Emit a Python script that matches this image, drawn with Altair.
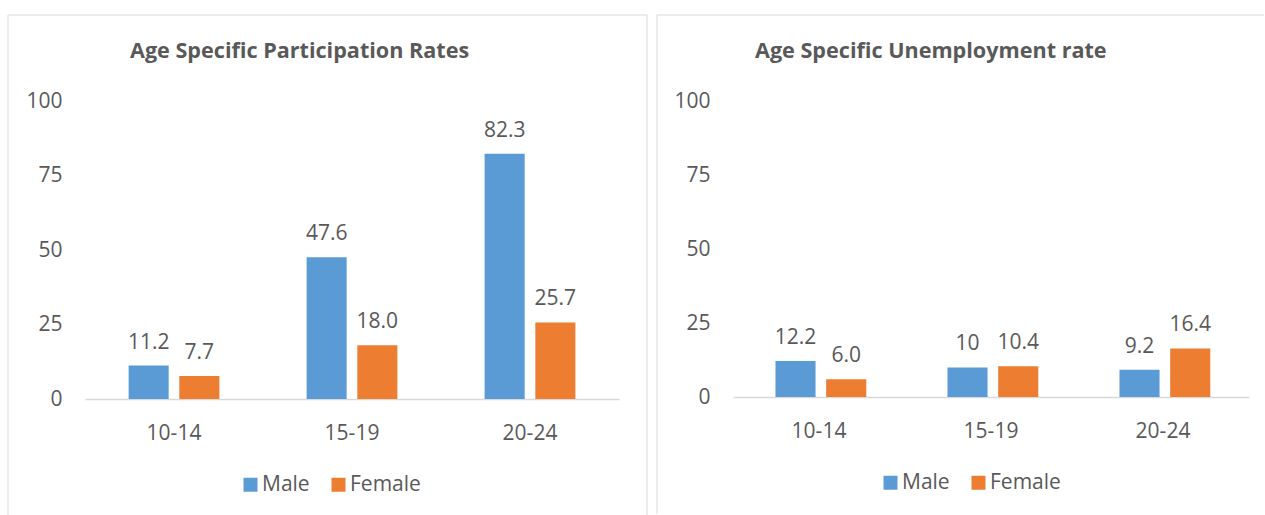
import altair as alt
import pandas as pd

ages = ["10-14", "15-19", "20-24"]
sexes = ["Male", "Female"]

part_male = [11.2, 47.6, 82.3]
part_female = [7.7, 18.0, 25.7]
part_male_lbl = ["11.2", "47.6", "82.3"]
part_female_lbl = ["7.7", "18.0", "25.7"]

unemp_male = [12.2, 10, 9.2]
unemp_female = [6.0, 10.4, 16.4]
unemp_male_lbl = ["12.2", "10", "9.2"]
unemp_female_lbl = ["6.0", "10.4", "16.4"]

y_ticks = [0, 25, 50, 75, 100]

FONT = "Open Sans"
TXT = "#595959"
LINE = "#D9D9D9"
BLUE = "#5B9BD5"
ORANGE = "#ED7D31"

ONE = pd.DataFrame({"k": [0]})


def rule(**enc):
    return alt.Chart(ONE).mark_rule(color=LINE, strokeWidth=1).encode(**enc)


def title_text(title, x, y):
    return alt.Chart(ONE).mark_text(
        align="left", baseline="alphabetic", fontSize=21.6, font=FONT,
        fontWeight="bold", color=TXT
    ).encode(x=alt.value(x), y=alt.value(y), text=alt.value(title))


def panel(title, male, female, male_lbl, female_lbl, w, h, pin, opin, title_x,
          leg_x, leg_y, rules):
    df = pd.DataFrame({
        "age": ages * 2,
        "sex": ["Male"] * 3 + ["Female"] * 3,
        "value": male + female,
        "label": male_lbl + female_lbl,
    })
    x = alt.X("age:N", sort=ages, title=None,
              scale=alt.Scale(paddingInner=pin, paddingOuter=pin / 2),
              axis=alt.Axis(labelAngle=0, labelFontSize=21, labelFont=FONT,
                            labelColor=TXT, ticks=False, tickSize=0,
                            domainColor=LINE, domainWidth=1.5, labelPadding=23))
    xo = alt.XOffset("sex:N", sort=sexes,
                     scale=alt.Scale(paddingInner=opin, paddingOuter=0))
    y = alt.Y("value:Q", title=None,
              scale=alt.Scale(domain=[0, 100], nice=False),
              axis=alt.Axis(values=y_ticks, grid=False, domain=False, ticks=False,
                            tickSize=0, labelPadding=23, labelFontSize=21,
                            labelFont=FONT, labelColor=TXT))
    color = alt.Color("sex:N", sort=sexes,
                      scale=alt.Scale(domain=sexes, range=[BLUE, ORANGE]),
                      legend=alt.Legend(title=None, orient="none", legendX=leg_x,
                                        legendY=leg_y, direction="horizontal",
                                        symbolType="square", symbolSize=196,
                                        symbolStrokeWidth=0, labelFontSize=21,
                                        labelFont=FONT, labelColor=TXT,
                                        labelOffset=1, columnPadding=18,
                                        padding=0))
    bars = alt.Chart(df).mark_bar().encode(x=x, xOffset=xo, y=y, color=color)
    text = alt.Chart(df).mark_text(dy=-17, baseline="alphabetic", fontSize=21,
                                   font=FONT, color=TXT).encode(
        x=x, xOffset=xo, y=y, text="label:N")
    return alt.layer(bars, text, title_text(title, title_x, -43), *rules).properties(
        width=w, height=h)


left_rules = [
    rule(x=alt.value(-77), y=alt.value(-86), y2=alt.value(414)),
    rule(x=alt.value(562), y=alt.value(-86), y2=alt.value(414)),
    rule(x=alt.value(-77), x2=alt.value(562), y=alt.value(-86)),
    rule(x=alt.value(-85), x2=alt.value(-80), y=alt.value(-101), opacity=alt.value(0)),
]
right_rules = [
    rule(x=alt.value(-76), y=alt.value(-86), y2=alt.value(413)),
    rule(x=alt.value(-76), x2=alt.value(531), y=alt.value(-86)),
    rule(x=alt.value(520), x2=alt.value(532), y=alt.value(414), opacity=alt.value(0)),
]

left = panel("Age Specific Participation Rates", part_male, part_female,
             part_male_lbl, part_female_lbl, 534, 298, 0.49, 0.21, 45,
             155, 373, left_rules)
right = panel("Age Specific Unemployment rate", unemp_male, unemp_female,
              unemp_male_lbl, unemp_female_lbl, 516, 296, 0.494, 0.204, 22,
              147, 371, right_rules)

chart = alt.hconcat(left, right, spacing=114, bounds="flush").resolve_scale(
    color="independent"
).resolve_legend(color="independent").properties(
    padding=0, background="white"
).configure_view(stroke=None)

chart.save("out.html", embed_options={"renderer": "svg", "actions": False})
